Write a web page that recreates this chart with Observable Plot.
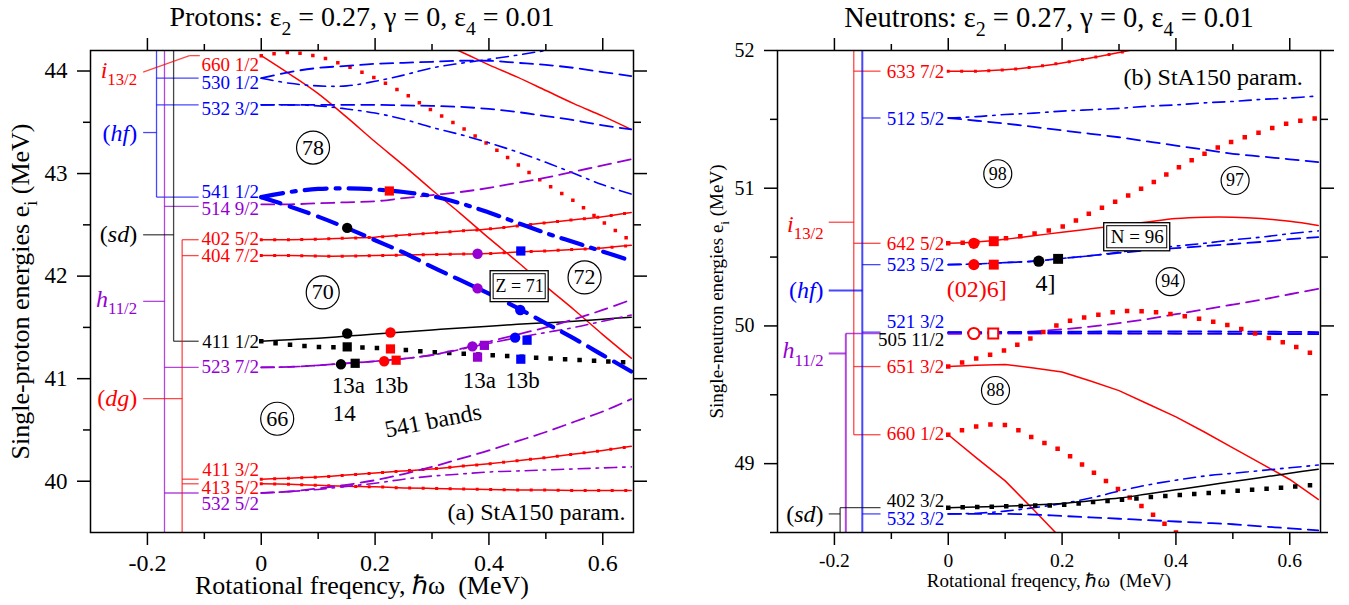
<!DOCTYPE html>
<html>
<head>
<meta charset="utf-8">
<script src="https://cdn.jsdelivr.net/npm/d3@7"></script>
<script src="https://cdn.jsdelivr.net/npm/@observablehq/plot@0.6"></script>
<style>
  body { margin: 0; background: #fff; }
  #wrap { display: flex; width: 1349px; height: 605px; }
  #wrap svg { display: block; flex: none; font-family: 'Liberation Serif', 'Times New Roman', serif !important; }
  #wrap svg text { font-family: 'Liberation Serif', 'Times New Roman', serif; }
</style>
</head>
<body>
<div id="wrap"></div>
<script>
// ---------- rotational frequency grid (MeV) ----------
const omega = [0, 0.05, 0.1, 0.15, 0.2, 0.25, 0.3, 0.35, 0.4, 0.45, 0.5, 0.55, 0.6, 0.65];

// ---------- proton single-particle routhians e_i (MeV) ----------
const p660a = [44.15, 43.97, 43.78, 43.55, 43.31, 43.08, 42.84, 42.61, 42.37, 42.14, 41.90, 41.67, 41.43, 41.20];
const p660b = [44.15, 44.18, 44.14, 44.05, 43.93, 43.785, 43.615, 43.455, 43.28, 43.09, 42.90, 42.73, 42.53, 42.34];
const pHigh = [null, null, null, null, null, null, 44.31, 44.19, 44.06, 43.94, 43.81, 43.68, 43.56, 43.43];
const p530a = [43.93, 43.99, 44.03, 44.05, 44.07, 44.08, 44.09, 44.10, 44.10, 44.08, 44.06, 44.03, 43.99, 43.95];
const p530b = [43.93, 43.88, 43.855, 43.855, 43.90, 43.96, 44.03, 44.075, 44.115, 44.155, 44.20, 44.24, 44.28, 44.32];
const p532a = [43.67, 43.67, 43.67, 43.67, 43.67, 43.665, 43.66, 43.65, 43.63, 43.60, 43.56, 43.52, 43.47, 43.43];
const p532b = [43.67, 43.67, 43.66, 43.63, 43.59, 43.53, 43.45, 43.38, 43.30, 43.21, 43.11, 43.00, 42.89, 42.80];
const p541a = [42.77, 42.82, 42.85, 42.855, 42.845, 42.82, 42.78, 42.71, 42.62, 42.52, 42.42, 42.33, 42.24, 42.15];
const p541b = [42.77, 42.68, 42.58, 42.47, 42.35, 42.23, 42.09, 41.96, 41.83, 41.69, 41.54, 41.39, 41.23, 41.07];
const p514 = [42.70, 42.70, 42.71, 42.72, 42.73, 42.76, 42.79, 42.82, 42.86, 42.91, 42.96, 43.02, 43.08, 43.14];
const p402 = [42.355, 42.355, 42.36, 42.37, 42.38, 42.40, 42.42, 42.44, 42.46, 42.49, 42.52, 42.55, 42.58, 42.62];
const p404 = [42.20, 42.20, 42.195, 42.195, 42.20, 42.205, 42.21, 42.215, 42.22, 42.235, 42.245, 42.26, 42.275, 42.30];
const p411a = [41.365, 41.38, 41.395, 41.415, 41.435, 41.455, 41.475, 41.495, 41.51, 41.53, 41.545, 41.56, 41.58, 41.60];
const p411b = [41.365, 41.33, 41.31, 41.305, 41.30, 41.28, 41.26, 41.245, 41.23, 41.215, 41.20, 41.185, 41.17, 41.155];
const p523a = [41.11, 41.115, 41.13, 41.15, 41.17, 41.195, 41.23, 41.29, 41.36, 41.43, 41.50, 41.58, 41.67, 41.77];
const p523b = [41.11, 41.115, 41.13, 41.15, 41.17, 41.195, 41.23, 41.285, 41.345, 41.40, 41.45, 41.50, 41.56, 41.62];
const p411c = [40.02, 40.03, 40.04, 40.06, 40.08, 40.10, 40.12, 40.145, 40.17, 40.20, 40.23, 40.265, 40.30, 40.34];
const p413 = [39.975, 39.97, 39.96, 39.95, 39.945, 39.935, 39.93, 39.925, 39.92, 39.915, 39.915, 39.91, 39.91, 39.91];
const p532c = [39.885, 39.90, 39.93, 39.965, 40.01, 40.07, 40.14, 40.22, 40.30, 40.39, 40.48, 40.58, 40.68, 40.80];
const p532d = [39.885, 39.90, 39.92, 39.95, 39.98, 40.02, 40.05, 40.07, 40.09, 40.10, 40.11, 40.12, 40.13, 40.14];

// ---------- neutron single-particle routhians e_i (MeV) ----------
const n633 = [51.85, 51.85, 51.86, 51.88, 51.91, 51.945, 51.985, 52.03, 52.08, null, null, null, null, null];
const n512a = [51.51, 51.52, 51.535, 51.545, 51.56, 51.57, 51.58, 51.595, 51.605, 51.62, 51.63, 51.645, 51.655, 51.67];
const n512b = [51.51, 51.49, 51.47, 51.445, 51.42, 51.395, 51.37, 51.34, 51.31, 51.28, 51.25, 51.23, 51.21, 51.19];
const n642a = [50.60, 50.61, 50.63, 50.655, 50.68, 50.705, 50.73, 50.755, 50.78, 50.79, 50.79, 50.78, 50.76, 50.73];
const n642b = [50.60, 50.61, 50.635, 50.67, 50.72, 50.82, 50.915, 51.02, 51.14, 51.25, 51.34, 51.41, 51.475, 51.51];
const n523a = [50.445, 50.45, 50.46, 50.47, 50.49, 50.51, 50.53, 50.55, 50.565, 50.58, 50.595, 50.61, 50.63, 50.645];
const n523b = [50.445, 50.45, 50.46, 50.47, 50.49, 50.51, 50.535, 50.56, 50.58, 50.60, 50.625, 50.645, 50.67, 50.69];
const n521a = [49.955, 49.955, 49.956, 49.957, 49.958, 49.959, 49.96, 49.96, 49.96, 49.96, 49.959, 49.958, 49.957, 49.955];
const n521b = [49.953, 49.952, 49.951, 49.95, 49.949, 49.948, 49.947, 49.946, 49.945, 49.944, 49.943, 49.942, 49.941, 49.94];
const n505a = [49.945, 49.945, 49.945, 49.945, 49.945, 49.945, 49.945, 49.945, 49.945, 49.945, 49.945, 49.945, 49.945, 49.945];
const n505b = [49.945, 49.945, 49.95, 49.96, 49.975, 49.995, 50.02, 50.05, 50.085, 50.12, 50.155, 50.19, 50.23, 50.27];
const n651a = [49.705, 49.715, 49.72, 49.695, 49.665, 49.60, 49.53, 49.435, 49.34, 49.23, 49.115, 49.00, 48.885, 48.74];
const n651b = [49.705, 49.765, 49.825, 49.92, 50.02, 50.07, 50.105, 50.105, 50.08, 50.045, 49.995, 49.93, 49.865, 49.78];
const n660a = [49.21, 49.04, 48.875, 48.665, 48.45, null, null, null, null, null, null, null, null, null];
const n660b = [49.21, 49.27, 49.28, 49.185, 49.09, 48.95, 48.81, 48.66, 48.50, 48.35, null, null, null, null];
const n402a = [48.68, 48.685, 48.69, 48.70, 48.71, 48.73, 48.75, 48.78, 48.81, 48.84, 48.87, 48.90, 48.93, 48.96];
const n402b = [48.68, 48.685, 48.69, 48.695, 48.70, 48.72, 48.735, 48.755, 48.77, 48.785, 48.80, 48.815, 48.83, 48.85];
const n532a = [48.635, 48.635, 48.635, 48.63, 48.62, 48.61, 48.60, 48.59, 48.58, 48.57, 48.56, 48.545, 48.53, 48.515];
const n532b = [48.635, 48.64, 48.655, 48.68, 48.71, 48.75, 48.80, 48.845, 48.88, 48.91, 48.93, 48.95, 48.97, 48.99];

// ---------- Nilsson labels: name, colour group, label height (MeV) ----------
const protonLevels = [
  ["660 1/2", "red", 44.058], ["530 1/2", "blue", 43.886], ["532 3/2", "blue", 43.627],
  ["541 1/2", "blue", 42.822], ["514 9/2", "purple", 42.656], ["402 5/2", "red", 42.364],
  ["404 7/2", "red", 42.199], ["411 1/2", "black", 41.354], ["523 7/2", "purple", 41.111],
  ["411 3/2", "red", 40.115], ["413 5/2", "red", 39.935], ["532 5/2", "purple", 39.774]
];
const neutronLevels = [
  ["633 7/2", "red", 51.847], ["512 5/2", "blue", 51.506], ["642 5/2", "red", 50.598],
  ["523 5/2", "blue", 50.442], ["521 3/2", "blue", 50.027], ["505 11/2", "black", 49.896],
  ["651 3/2", "red", 49.703], ["660 1/2", "red", 49.214], ["402 3/2", "black", 48.73],
  ["532 3/2", "blue", 48.601]
];

// ---------- spherical-shell labels: text, colour group, label height (MeV) ----------
const protonShells = [["*i*_{13/2}", "red", 44.01], ["(*hf*)", "blue", 43.396], ["(*sd*)", "black", 42.403],
  ["*h*_{11/2}", "purple", 41.775], ["(*dg*)", "red", 40.806]];
const neutronShells = [["*i*_{13/2}", "red", 50.741], ["(*hf*)", "blue", 50.257],
  ["*h*_{11/2}", "purple", 49.82], ["(*sd*)", "black", 48.63]];

// ---------- configuration markers: ω, e, shape, colour group ----------
const protonMarkW = [0.151, 0.225, 0.38, 0.455, 0.38, 0.456, 0.151, 0.227, 0.151, 0.227, 0.14, 0.165, 0.216, 0.237, 0.371, 0.392, 0.446, 0.467, 0.38, 0.456];
const protonMarkE = [42.47, 42.83, 41.88, 41.67, 42.218, 42.245, 41.44, 41.45, 41.31, 41.29, 41.14, 41.15, 41.17, 41.18, 41.315, 41.325, 41.40, 41.375, 41.21, 41.19];
const protonMarkShape = ["circle", "square", "circle", "circle", "circle", "square", "circle", "circle", "square", "square", "circle", "square", "circle", "square", "circle", "square", "circle", "square", "square", "square"];
const protonMarkGroup = ["black", "red", "purple", "blue", "purple", "blue", "black", "red", "black", "red", "black", "black", "red", "red", "purple", "purple", "blue", "blue", "purple", "blue"];
const neutronMarkW = [0.045, 0.08, 0.045, 0.08, 0.159, 0.193, 0.045, 0.079];
const neutronMarkE = [50.60, 50.615, 50.445, 50.445, 50.47, 50.487, 49.945, 49.945];
const neutronMarkShape = ["circle", "square", "circle", "square", "circle", "square", "circle", "square"];
const neutronMarkGroup = ["red", "red", "red", "red", "black", "black", "red", "red"];
const neutronMarkOpen = [false, false, false, false, false, false, true, true];

// ---------- annotations ----------
const protonGaps = [["78", 0.091, 43.253], ["70", 0.108, 41.841], ["66", 0.028, 40.609], ["72", 0.568, 41.987]];
const neutronGaps = [["98", 0.087, 51.105], ["97", 0.504, 51.056], ["94", 0.39, 50.322], ["88", 0.083, 49.531]];
const protonNotes = [["13a", 0.153, 40.933], ["13b", 0.228, 40.933], ["13a", 0.383, 40.98], ["13b", 0.459, 40.98], ["14", 0.146, 40.66]];
const neutronNotes = [["(02)6]", 0.05, 50.264, "red"], ["4]", 0.171, 50.306, "black"]];

// ---------- drawing ----------
const C = {red: "#ff0000", blue: "#0000ff", purple: "#9400d3", black: "#000000"};
const ST = {
  solid: {strokeWidth: 1.5},
  sq: {strokeWidth: 3, strokeDasharray: "0,13.5", strokeLinecap: "square"},
  dots: {strokeWidth: 3.5, strokeDasharray: "0,13", strokeLinecap: "square"},
  bigdots: {strokeWidth: 4.5, strokeDasharray: "0,14.5", strokeLinecap: "square"},
  dash: {strokeWidth: 1.8, strokeDasharray: "13,7"},
  dashdot: {strokeWidth: 1.6, strokeDasharray: "12,6,2.5,6"},
  thickdash: {strokeWidth: 4.2, strokeDasharray: "20,10"},
  thickdashdot: {strokeWidth: 4.2, strokeDasharray: "22,9,4,9"}
};
const SERIF = "'Liberation Serif', 'Times New Roman', serif";
const F = {fontFamily: SERIF};
const series = (arr) => omega.map((w, i) => ({w, e: arr[i]})).filter((d) => d.e != null);
const blank = () => "";

// turns *italic* and _{subscript} markup inside drawn text into tspans
function richify(svg) {
  const NS = "http://www.w3.org/2000/svg";
  for (const t of svg.querySelectorAll("text")) {
    const s = t.textContent;
    if (!/_\{|\*/.test(s) || t.querySelector("tspan")) continue;
    t.textContent = "";
    let pending = null;
    const push = (str, kind) => {
      if (!str) return;
      const ts = document.createElementNS(NS, "tspan");
      ts.textContent = str;
      if (kind === "sub") {
        ts.style.fontSize = "70%";
        ts.setAttribute("dy", "0.45em");
        pending = "-0.315em";
      } else {
        if (kind === "it") ts.setAttribute("font-style", "italic");
        if (pending) { ts.setAttribute("dy", pending); pending = null; }
      }
      t.appendChild(ts);
    };
    const re = /_\{([^}]*)\}|\*([^*]*)\*/g;
    let last = 0, m;
    while ((m = re.exec(s))) {
      push(s.slice(last, m.index), "");
      if (m[1] != null) push(m[1], "sub"); else push(m[2], "it");
      last = re.lastIndex;
    }
    push(s.slice(last), "");
  }
  // drop the empty labels of tick-only axes
  for (const t of svg.querySelectorAll("text")) if (t.textContent === "") t.remove();
}

function levelPanel(o) {
  const marks = [];
  // spherical-shell trees joining the Nilsson labels
  marks.push(Plot.link(o.tree, {x1: "x1", y1: "y1", x2: "x2", y2: "y2",
    stroke: (d) => C[d.c], strokeWidth: (d) => d.sw || 1.3, strokeOpacity: 0.72, clip: true}));
  // routhians
  for (const [arr, col, st, curve] of o.curves) {
    marks.push(Plot.line(series(arr), {x: "w", y: "e", stroke: C[col], ...ST[st],
      curve: curve || "catmull-rom", clip: true}));
  }
  // configuration markers
  const mk = o.markers;
  const circ = mk.filter((d) => d.s === "circle"), sqr = mk.filter((d) => d.s === "square");
  marks.push(Plot.dot(circ, {x: "w", y: "e", r: o.markR, symbol: "circle",
    fill: (d) => d.open ? "white" : C[d.c], stroke: (d) => C[d.c], strokeWidth: (d) => d.open ? 2 : 0}));
  marks.push(Plot.dot(sqr, {x: "w", y: "e", r: o.markR, symbol: "square",
    fill: (d) => d.open ? "white" : C[d.c], stroke: (d) => C[d.c], strokeWidth: (d) => d.open ? 2 : 0}));
  // Nilsson labels
  marks.push(Plot.text(o.levels, {x: () => o.labelX, y: (d) => d[2], text: (d) => d[0],
    fill: (d) => C[d[1]], textAnchor: "end", fontSize: o.levelFont, ...F}));
  marks.push(Plot.text(o.shells, {x: () => o.shellX, y: (d) => d[2], text: (d) => d[0],
    fill: (d) => C[d[1]], textAnchor: "end", fontSize: 24, ...F}));
  // gap numbers in circles
  marks.push(Plot.dot(o.gaps, {x: (d) => d[1], y: (d) => d[2], r: o.gapR, stroke: "black", strokeWidth: 1.2, fill: "none"}));
  marks.push(Plot.text(o.gaps, {x: (d) => d[1], y: (d) => d[2], text: (d) => d[0], fontSize: o.gapFont, ...F}));
  // boxed particle number
  const b = o.box;
  marks.push(Plot.rect([b], {x1: (d) => d.w - d.hw, x2: (d) => d.w + d.hw, y1: (d) => d.e - d.hh, y2: (d) => d.e + d.hh,
    fill: "white", stroke: "black", strokeWidth: 1.3}));
  marks.push(Plot.rect([b], {x1: (d) => d.w - d.hw, x2: (d) => d.w + d.hw, y1: (d) => d.e - d.hh, y2: (d) => d.e + d.hh,
    inset: 3, fill: "none", stroke: "black", strokeWidth: 1}));
  marks.push(Plot.text([b], {x: "w", y: "e", text: "t", fontSize: o.boxFont, ...F}));
  // other notes
  marks.push(Plot.text(o.notes, {x: (d) => d[1], y: (d) => d[2], text: (d) => d[0], fill: (d) => C[d[3] || "black"], fontSize: o.noteFont, ...F}));
  for (const m of o.extra) marks.push(m);
  // frame and axes (ticks outward on all four sides)
  marks.push(Plot.frame({stroke: "black", strokeWidth: 1.5}));
  const xMajor = [-0.2, 0, 0.2, 0.4, 0.6], xMinor = [-0.1, 0.1, 0.3, 0.5];
  marks.push(Plot.axisX({anchor: "bottom", ticks: xMinor, tickSize: 7, strokeWidth: 1.5, tickFormat: blank}));
  marks.push(Plot.axisX({anchor: "top", ticks: xMinor, tickSize: 7, strokeWidth: 1.5, tickFormat: blank}));
  marks.push(Plot.axisX({anchor: "top", ticks: xMajor, tickSize: 13, strokeWidth: 1.5, tickFormat: blank}));
  marks.push(Plot.axisX({anchor: "bottom", ticks: xMajor, tickSize: 13, tickPadding: o.xPad, strokeWidth: 1.5,
    tickFormat: (d) => String(d), fontSize: o.tickFont, ...F}));
  marks.push(Plot.axisY({anchor: "left", ticks: o.yMinor, tickSize: 7, strokeWidth: 1.5, tickFormat: blank}));
  marks.push(Plot.axisY({anchor: "right", ticks: o.yMinor, tickSize: 7, strokeWidth: 1.5, tickFormat: blank}));
  marks.push(Plot.axisY({anchor: "right", ticks: o.yMajor, tickSize: 13, strokeWidth: 1.5, tickFormat: blank}));
  marks.push(Plot.axisY({anchor: "left", ticks: o.yMajor, tickSize: 13, tickPadding: 10, strokeWidth: 1.5,
    tickFormat: (d) => String(d), fontSize: o.yTickFont, ...F}));
  // titles
  marks.push(Plot.text([o.title], {frameAnchor: "top", lineAnchor: "middle", textAnchor: "middle", dy: -33,
    text: (d) => d, fontSize: o.titleFont, ...F}));
  marks.push(Plot.text([o.xLabel], {frameAnchor: "bottom", lineAnchor: "middle", textAnchor: "middle", dy: o.xLabelDy,
    text: (d) => d, fontSize: o.axisFont, ...F}));
  marks.push(Plot.text([o.yLabel], {frameAnchor: "left", lineAnchor: "middle", textAnchor: "middle", dx: o.yLabelDx,
    rotate: -90, text: (d) => d, fontSize: o.axisFont, ...F}));

  const svg = Plot.plot({
    width: o.width, height: 605,
    marginLeft: o.marginLeft, marginRight: o.marginRight, marginTop: 50, marginBottom: 73,
    x: {domain: [-0.3, 0.654], axis: null},
    y: {domain: o.yDomain, axis: null},
    color: {type: "identity"},
    style: {background: "white", overflow: "visible", color: "black"},
    marks
  });
  svg.style.fontFamily = SERIF;
  richify(svg);
  return svg;
}

const markers = (W, E, S, G, O) => W.map((w, i) => ({w, e: E[i], s: S[i], c: G[i], open: O ? O[i] : false}));

// proton shell tree: vertical trunks and branches to each level
const pT = {blue: -0.184, purple: -0.170, black: -0.154, red: -0.139, end: -0.11, lab: -0.2075};
const protonTree = [
  {c: "blue", x1: pT.blue, y1: 44.3, x2: pT.blue, y2: p541a[0]},
  {c: "blue", x1: pT.blue, y1: p530a[0], x2: pT.end, y2: p530a[0]},
  {c: "blue", x1: pT.blue, y1: p532a[0], x2: pT.end, y2: p532a[0]},
  {c: "blue", x1: pT.blue, y1: p541a[0], x2: pT.end, y2: p541a[0]},
  {c: "blue", x1: pT.lab, y1: 43.40, x2: pT.blue, y2: 43.40},
  {c: "purple", x1: pT.purple, y1: 44.3, x2: pT.purple, y2: 39.4},
  {c: "purple", x1: pT.purple, y1: 42.68, x2: pT.end, y2: 42.68},
  {c: "purple", x1: pT.purple, y1: p523a[0], x2: pT.end, y2: p523a[0]},
  {c: "purple", x1: pT.purple, y1: p532c[0], x2: pT.end, y2: p532c[0]},
  {c: "purple", x1: pT.lab, y1: 41.754, x2: pT.purple, y2: 41.754},
  {c: "black", x1: pT.black, y1: 44.3, x2: pT.black, y2: p411a[0]},
  {c: "black", x1: pT.black, y1: p411a[0], x2: pT.end, y2: p411a[0]},
  {c: "black", x1: pT.lab, y1: 42.403, x2: pT.black, y2: 42.403},
  {c: "red", x1: pT.red, y1: p402[0], x2: pT.red, y2: 39.4},
  {c: "red", x1: pT.red, y1: p402[0], x2: pT.end, y2: p402[0]},
  {c: "red", x1: pT.red, y1: p404[0], x2: pT.end, y2: p404[0]},
  {c: "red", x1: pT.red, y1: p411c[0], x2: pT.end, y2: p411c[0]},
  {c: "red", x1: pT.red, y1: p413[0], x2: pT.end, y2: p413[0]},
  {c: "red", x1: pT.lab, y1: 40.806, x2: pT.red, y2: 40.806},
  {c: "red", x1: pT.lab, y1: 43.99, x2: -0.126, y2: p660a[0]},
  {c: "red", x1: -0.126, y1: p660a[0], x2: -0.108, y2: p660a[0]}
];

const nT = {black: -0.190, purple: -0.180, red: -0.166, blue: -0.151, end: -0.119, lab: -0.21};
const neutronTree = [
  {c: "red", x1: nT.red, y1: 52.1, x2: nT.red, y2: n660a[0]},
  {c: "red", x1: nT.red, y1: n633[0], x2: nT.end, y2: n633[0]},
  {c: "red", x1: nT.red, y1: n642a[0], x2: nT.end, y2: n642a[0]},
  {c: "red", x1: nT.red, y1: n651a[0], x2: nT.end, y2: n651a[0]},
  {c: "red", x1: nT.red, y1: n660a[0], x2: nT.end, y2: n660a[0]},
  {c: "red", x1: nT.lab, y1: 50.753, x2: nT.red, y2: 50.753},
  {c: "blue", x1: nT.blue, y1: 52.1, x2: nT.blue, y2: 48.4, sw: 2},
  {c: "blue", x1: nT.blue, y1: n512a[0], x2: nT.end, y2: n512a[0]},
  {c: "blue", x1: nT.blue, y1: n523a[0], x2: nT.end, y2: n523a[0]},
  {c: "blue", x1: nT.blue, y1: n521a[0], x2: nT.end, y2: n521a[0]},
  {c: "blue", x1: nT.blue, y1: n532a[0], x2: nT.end, y2: n532a[0]},
  {c: "blue", x1: nT.lab, y1: 50.257, x2: nT.blue, y2: 50.257, sw: 2},
  {c: "purple", x1: nT.purple, y1: n505a[0], x2: nT.purple, y2: 48.4, sw: 2},
  {c: "purple", x1: nT.purple, y1: n505a[0], x2: nT.end, y2: n505a[0]},
  {c: "purple", x1: nT.lab, y1: 49.80, x2: nT.purple, y2: 49.80, sw: 2},
  {c: "black", x1: nT.black, y1: n402a[0], x2: nT.black, y2: 48.4},
  {c: "black", x1: nT.black, y1: n402a[0], x2: nT.end, y2: n402a[0]},
  {c: "black", x1: nT.lab, y1: 48.635, x2: nT.black, y2: 48.635}
];

const protons = levelPanel({
  width: 674, marginLeft: 90, marginRight: 41, yDomain: [39.5, 44.2],
  yMajor: [40, 41, 42, 43, 44], yMinor: [40.5, 41.5, 42.5, 43.5],
  tree: protonTree,
  curves: [
    [p660b, "red", "dots"], [p660a, "red", "solid"], [pHigh, "red", "solid"],
    [p530a, "blue", "dash"], [p530b, "blue", "dashdot"],
    [p532a, "blue", "dash"], [p532b, "blue", "dashdot"],
    [p514, "purple", "dash"],
    [p402, "red", "solid"], [p402, "red", "sq"], [p404, "red", "solid"], [p404, "red", "sq"],
    [p411a, "black", "solid"], [p411b, "black", "bigdots"],
    [p523a, "purple", "dash"], [p523b, "purple", "dashdot"],
    [p411c, "red", "solid"], [p411c, "red", "sq"], [p413, "red", "solid"], [p413, "red", "sq"],
    [p532c, "purple", "dash"], [p532d, "purple", "dashdot"],
    [p541a, "blue", "thickdashdot"], [p541b, "blue", "thickdash"]
  ],
  markers: markers(protonMarkW, protonMarkE, protonMarkShape, protonMarkGroup), markR: 5.2,
  levels: protonLevels, labelX: -0.004, levelFont: 19,
  shells: protonShells, shellX: -0.218,
  gaps: protonGaps, gapR: 16.5, gapFont: 22,
  box: {t: "Z = 71", w: 0.454, e: 41.897, hw: 0.051, hh: 0.151}, boxFont: 18,
  notes: protonNotes, noteFont: 23,
  extra: [
    Plot.text(["541 bands"], {x: () => 0.302, y: () => 40.59, text: (d) => d, rotate: -11, fontSize: 24, ...F}),
    Plot.text(["(a) StA150 param."], {x: () => 0.64, y: () => 39.696, text: (d) => d, textAnchor: "end", fontSize: 24, ...F})
  ],
  xPad: 8, tickFont: 24, yTickFont: 23,
  title: "Protons: ε_{2} = 0.27, γ = 0, ε_{4} = 0.01", titleFont: 28,
  xLabel: "Rotational freqency, ℏω  (MeV)", xLabelDy: 53,
  yLabel: "Single-proton energies e_{i} (MeV)", yLabelDx: -70, axisFont: 26
});

const neutrons = levelPanel({
  width: 675, marginLeft: 103, marginRight: 29, yDomain: [48.5, 52],
  yMajor: [49, 50, 51, 52], yMinor: [48.5, 49.5, 50.5, 51.5],
  tree: neutronTree,
  curves: [
    [n633, "red", "solid"], [n633, "red", "sq"],
    [n512a, "blue", "dashdot"], [n512b, "blue", "dash"],
    [n642b, "red", "bigdots"], [n642a, "red", "solid"],
    [n523b, "blue", "dashdot"], [n523a, "blue", "dash"],
    [n505a, "purple", "dash"], [n505b, "purple", "dash"],
    [n521a, "blue", "dash"], [n521b, "blue", "dash"],
    [n651b, "red", "bigdots"], [n651a, "red", "solid", "linear"],
    [n660b, "red", "bigdots"], [n660a, "red", "solid", "linear"],
    [n532a, "blue", "dash"], [n532b, "blue", "dashdot"],
    [n402a, "black", "solid"], [n402b, "black", "bigdots"]
  ],
  markers: markers(neutronMarkW, neutronMarkE, neutronMarkShape, neutronMarkGroup, neutronMarkOpen), markR: 5.6,
  levels: neutronLevels, labelX: -0.007, levelFont: 19,
  shells: neutronShells, shellX: -0.219,
  gaps: neutronGaps, gapR: 14, gapFont: 18,
  box: {t: "N = 96", w: 0.332, e: 50.644, hw: 0.058, hh: 0.102}, boxFont: 19,
  notes: neutronNotes, noteFont: 24,
  extra: [
    Plot.text(["(b) StA150 param."], {x: () => 0.623, y: () => 51.806, text: (d) => d, textAnchor: "end", fontSize: 24, ...F})
  ],
  xPad: 8, tickFont: 19.5, yTickFont: 20,
  title: "Neutrons: ε_{2} = 0.27, γ = 0, ε_{4} = 0.01", titleFont: 28.5,
  xLabel: "Rotational freqency, ℏω  (MeV)", xLabelDy: 48,
  yLabel: "Single-neutron energies e_{i} (MeV)", yLabelDx: -61, axisFont: 19
});

document.getElementById("wrap").append(protons, neutrons);
</script>
</body>
</html>
